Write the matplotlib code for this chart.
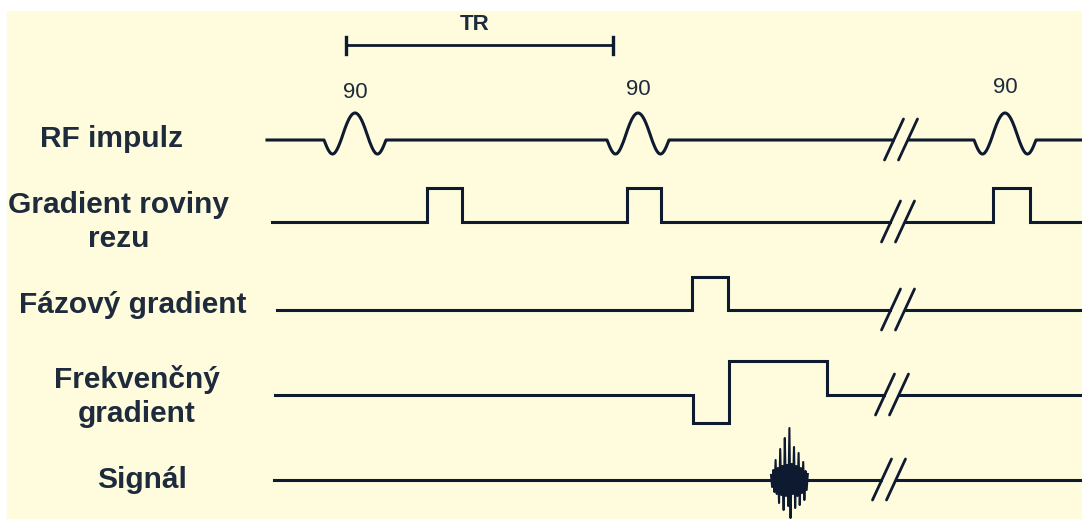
import numpy as np
import matplotlib.pyplot as plt
from matplotlib.patches import Rectangle

# layout in pixel units of the 1082x519 picture (y grows downwards)
W, H = 1082, 519
CREAM = "#FEFCDD"
INK = "#0E1A30"
TXT = "#1E2B3C"

row_labels = ["RF impulz", "Gradient roviny\nrezu", "Fázový gradient",
              "Frekvenčný\ngradient", "Signál"]
label_x = [112, 119, 133, 137, 142]
label_base = [147, 213, 313, 388, 488]
baselines = [140, 222, 310, 395, 480]
line_start = [267, 272, 277, 275, 274]
break_x = [894, 891, 891, 885, 882]

# RF pulses (sinc-like, flip angle 90)
rf_centers = [355, 638, 1005]
rf_halfwidth = 31
rf_peak = 27
rf_trough = 14
rf_angles = ["90", "90", "90"]
rf_label_base = [98, 95, 93]

# gradient lobes: (on, off, level)
slice_lobes = [(427, 462, 188), (627, 661, 188), (993, 1030, 188)]
phase_lobes = [(692, 728, 277)]
freq_lobes = [(693, 729, 423), (729, 827, 361)]

# echo: spike heights above (+) / below (-) the baseline
echo_start, echo_step = 771, 1.15
echo_amp = [5, -7, 10, -12, 20, -14, 12, -23, 31, -15, 14, -30, 42, -16,
            15, -26, 52, -38, 16, -14, 33, -28, 14, -16, 27, -25, 12, -13,
            18, -20, 9, -10, 6]

TR_from, TR_to, TR_y = 346, 613, 45


def step_wave(x0, base, lobes):
    xs, ys = [x0], [base]
    for on, off, lev in lobes:
        if ys[-1] != base and xs[-1] == on:
            xs += [on, off, off]
            ys += [lev, lev, base]
        else:
            xs += [on, on, off, off]
            ys += [base, lev, lev, base]
    xs.append(W)
    ys.append(base)
    return xs, ys


def rf_shape(u):
    a = np.abs(u)
    main = np.cos(0.5 * np.pi * a / 0.45) * rf_peak
    side = -np.sin(np.pi * (a - 0.45) / 0.55) * rf_trough
    return np.where(a < 0.45, main, side)


fig = plt.figure(figsize=(W / 100, H / 100), dpi=100, facecolor="white")
ax = fig.add_axes([0, 0, 1, 1])
ax.set_xlim(0, W)
ax.set_ylim(H, 0)
ax.axis("off")
ax.add_patch(Rectangle((7, 11), W - 7, H - 11, color=CREAM, zorder=0))

lw = 2.2
# RF row
base = baselines[0]
xs = [line_start[0]]
ys = [base]
for c in rf_centers:
    u = np.linspace(-1, 1, 100)
    xs += list(c + u * rf_halfwidth)
    ys += list(base - rf_shape(u))
xs.append(W)
ys.append(base)
ax.plot(xs, ys, color=INK, lw=lw, zorder=2)

for c, a, b in zip(rf_centers, rf_angles, rf_label_base):
    ax.text(c, b, a, ha="center", va="baseline", fontsize=16,
            family="Liberation Sans", color=TXT, zorder=3)

# gradient rows
for i, lobes in [(1, slice_lobes), (2, phase_lobes), (3, freq_lobes)]:
    xs, ys = step_wave(line_start[i], baselines[i], lobes)
    ax.plot(xs, ys, color=INK, lw=lw, solid_joinstyle="miter", zorder=2)

# signal row
ax.plot([line_start[4], W], [baselines[4]] * 2, color=INK, lw=lw, zorder=2)
ex = echo_start + echo_step * np.arange(len(echo_amp))
ax.plot(ex, baselines[4] - np.array(echo_amp), color=INK, lw=1.5, zorder=2)

# breaks //
for bx, y in zip(break_x, baselines):
    ax.plot([bx + 1, bx + 13], [y, y], color=CREAM, lw=4,
            solid_capstyle="butt", zorder=3)
    for off in (0, 14):
        ax.plot([bx + off - 9.5, bx + off + 9.5], [y + 20, y - 21],
                color=INK, lw=2.0, solid_capstyle="round", zorder=4)

# TR bracket
ax.plot([TR_from, TR_to], [TR_y, TR_y], color=INK, lw=2.0, zorder=2)
for x in (TR_from, TR_to):
    ax.plot([x, x], [TR_y - 8, TR_y + 9], color=INK, lw=2.4, zorder=2)
ax.text(475, 30, "TR", ha="center", va="baseline", fontsize=16,
        fontweight="bold", family="Liberation Sans", color=TXT)

# row labels
for lab, x, b in zip(row_labels, label_x, label_base):
    lines = lab.split("\n")
    for k, ln in enumerate(lines):
        yy = b if k == 0 else b + 34 * k
        ax.text(x, yy, ln, ha="center", va="baseline", fontsize=21.5,
                fontweight="bold", family="Liberation Sans", color=TXT)

fig.savefig("out.png", dpi=100, facecolor="white")
